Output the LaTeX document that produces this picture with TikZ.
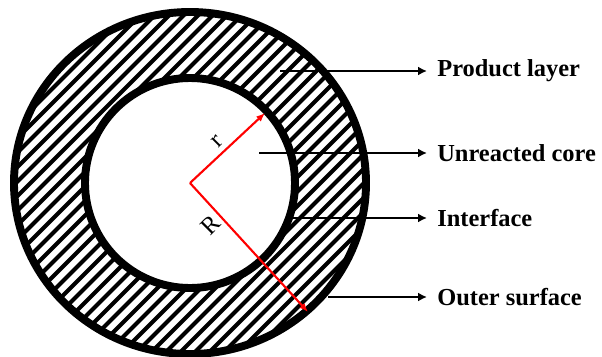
\documentclass[tikz,border=0pt]{standalone}
\usepackage{fontspec}
\setmainfont{Liberation Serif}
\usetikzlibrary{arrows.meta}
\begin{document}
\begin{tikzpicture}[
    rayon/.style={red, line width=1.2pt, -{Latex[length=5pt,width=4pt]}},
    fleche/.style={line width=1.1pt, -{Latex[length=5pt,width=5pt]}},
    legende/.style={anchor=west, inner sep=0.2cm, font=\fontsize{13.9}{16}\selectfont\bfseries},
    lettre/.style={rotate=45, inner sep=0pt, font=\fontsize{14}{16}\selectfont}]
    \useasboundingbox (-3.80,-3.46) rectangle (8.24,3.66);

    % Hachures de la couche de produit
    \begin{scope}[even odd rule]
        \clip (0,0) ellipse (3.52cm and 3.42cm) (0,0) circle (2.10cm);
        \foreach \k in {-20,...,20}
            \draw[line width=2.3pt] (\k*0.29-4,-4) -- ++(8,8);
    \end{scope}

    % Cercles
    \draw[line width=4.5pt] (0,0) ellipse (3.52cm and 3.42cm);
    \draw[line width=4.5pt] (0,0) circle (2.10cm);

    % Rayons
    \coordinate (O) at (0,0);
    \coordinate (rfin) at (1.50,1.40);
    \coordinate (Rfin) at (2.36,-2.58);
    \draw[rayon] (O) -- (rfin);
    \draw[rayon] (O) -- (Rfin);
    \node[lettre] (rlab) at (0.54,0.82) {r};
    \node[lettre] (Rlab) at (0.42,-0.84) {R};

    % Legendes
    \coordinate (pl) at (1.80,2.24);
    \coordinate (uc) at (1.38,0.60);
    \coordinate (it) at (2.06,-0.70);
    \coordinate (os) at (2.76,-2.28);
    \node[legende] (prod) at (4.74,2.24) {Product layer};
    \node[legende] (core) at (4.74,0.60) {Unreacted core};
    \node[legende] (inter) at (4.74,-0.70) {Interface};
    \node[legende] (outer) at (4.74,-2.28) {Outer surface};
    \draw[fleche] (pl) -- (prod);
    \draw[fleche] (uc) -- (core);
    \draw[fleche] (it) -- (inter);
    \draw[fleche] (os) -- (outer);
\end{tikzpicture}
\end{document}
